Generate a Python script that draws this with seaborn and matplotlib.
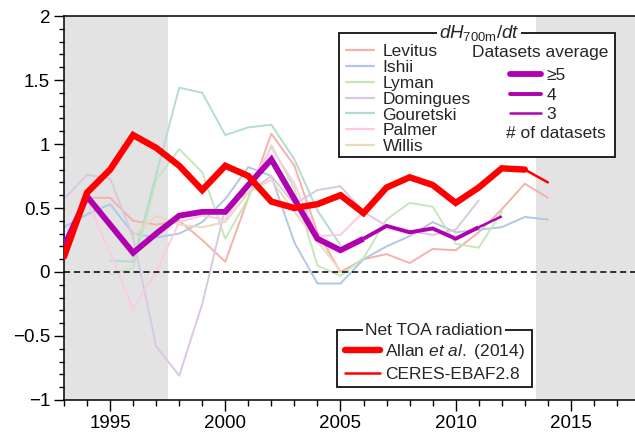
import numpy as np
import pandas as pd
import matplotlib
matplotlib.use('Agg')
import matplotlib.pyplot as plt
import seaborn as sns
from matplotlib.lines import Line2D
from matplotlib.patches import Rectangle
from matplotlib.ticker import MultipleLocator

# ---------------- data ----------------
dataset_names = ["Levitus", "Ishii", "Lyman", "Domingues", "Gouretski", "Palmer", "Willis"]

levitus_years = list(range(1994, 2015))
levitus = [0.58, 0.58, 0.40, 0.37, 0.40, 0.25, 0.08, 0.58, 1.08, 0.83, 0.31,
           0.00, 0.10, 0.14, 0.07, 0.18, 0.17, 0.31, 0.49, 0.69, 0.58]

ishii_years = list(range(1993, 2015))
ishii = [0.35, 0.45, 0.53, 0.30, 0.27, 0.30, 0.39, 0.57, 0.82, 0.75, 0.23,
         -0.09, -0.09, 0.10, 0.20, 0.28, 0.39, 0.31, 0.33, 0.35, 0.43, 0.41]

lyman_years = list(range(1995, 2013))
lyman = [-0.02, 0.03, 0.72, 0.96, 0.78, 0.26, 0.58, 0.99, 0.65, 0.05, -0.03,
         0.11, 0.41, 0.54, 0.51, 0.22, 0.19, 0.47]

domingues_years = list(range(1993, 2012))
domingues = [0.57, 0.76, 0.73, 0.27, -0.58, -0.81, -0.25, 0.50, 0.62, 0.75,
             0.53, 0.64, 0.67, 0.47, 0.36, 0.32, 0.29, 0.33, 0.56]

gouretski_years = list(range(1995, 2006))
gouretski = [0.09, 0.08, 0.76, 1.44, 1.40, 1.07, 1.13, 1.15, 0.88, 0.48, 0.21]

palmer_years = list(range(1993, 2007))
palmer = [0.09, 0.56, 0.15, -0.29, 0.00, 0.39, 0.44, 0.41, 0.67, 0.97, 0.69,
          0.28, 0.29, 0.47]

willis_years = list(range(1996, 2006))
willis = [0.28, 0.44, 0.37, 0.35, 0.39, 0.62, 0.72, 0.47, 0.24, 0.01]

avg_years = list(range(1993, 2013))
avg_values = [0.20, 0.59, 0.37, 0.15, 0.30, 0.44, 0.47, 0.47, 0.68, 0.88,
              0.57, 0.26, 0.17, 0.26, 0.36, 0.31, 0.34, 0.26, 0.35, 0.435]
n_datasets = [5, 5, 7, 7, 7, 7, 7, 7, 7, 7, 7, 7, 7, 5, 4, 4, 4, 4, 4, 3]

allan_years = list(range(1993, 2014))
allan = [0.12, 0.62, 0.80, 1.07, 0.97, 0.83, 0.64, 0.83, 0.75, 0.55, 0.50,
         0.53, 0.60, 0.46, 0.66, 0.74, 0.68, 0.54, 0.66, 0.81, 0.80]

ceres_years = list(range(2001, 2015))
ceres = [0.75, 0.55, 0.50, 0.53, 0.60, 0.46, 0.66, 0.74, 0.68, 0.54, 0.66,
         0.81, 0.80, 0.70]

dataset_colors = ["#f6b1aa", "#b0c8e4", "#c6e7bc", "#dac8e3", "#b4ddcf", "#fbcbe6", "#ebdabd"]

# ---------------- styling ----------------
sns.set_style("ticks")
plt.rcParams['font.family'] = ['Liberation Sans', 'DejaVu Sans']
plt.rcParams['mathtext.fontset'] = 'custom'
plt.rcParams['mathtext.rm'] = 'Liberation Sans'
plt.rcParams['mathtext.it'] = 'Liberation Sans:italic'

W, H = 635, 440
fig = plt.figure(figsize=(W / 100, H / 100), dpi=100)
fig.patch.set_facecolor('white')

def fx(px):
    return px / W

def fy(py):
    return 1 - py / H

ax = fig.add_axes([fx(64), fy(400), (640 - 64) / W, (400 - 16) / H])
ax.set_facecolor('white')

# shaded periods
ax.axvspan(1993, 1997.5, color='#e3e3e3', lw=0, zorder=0)
ax.axvspan(2013.5, 2018, color='#e3e3e3', lw=0, zorder=0)

# individual datasets
all_years = [levitus_years, ishii_years, lyman_years, domingues_years,
             gouretski_years, palmer_years, willis_years]
all_vals = [levitus, ishii, lyman, domingues, gouretski, palmer, willis]
rows = []
for name, yrs, vals in zip(dataset_names, all_years, all_vals):
    for yr, v in zip(yrs, vals):
        rows.append((name, yr, v))
df = pd.DataFrame(rows, columns=["dataset", "year", "value"])
sns.lineplot(data=df, x="year", y="value", hue="dataset",
             palette=dict(zip(dataset_names, dataset_colors)),
             hue_order=dataset_names, estimator=None, sort=False,
             legend=False, lw=1.4, ax=ax, zorder=2)

# zero line
ax.axhline(0, color='k', lw=1.1, ls=(0, (4, 2.5)), zorder=3)

# dataset average, width by number of datasets
purple = '#b000b0'
width_for = {5: 4.2, 4: 2.8, 3: 1.8}
seg_cat = [min(5, min(n_datasets[i], n_datasets[i + 1])) for i in range(len(avg_years) - 1)]
start = 0
for i in range(1, len(seg_cat) + 1):
    if i == len(seg_cat) or seg_cat[i] != seg_cat[start]:
        sl = slice(start, i + 1)
        sns.lineplot(x=avg_years[sl], y=avg_values[sl], color=purple,
                     lw=width_for[seg_cat[start]], ax=ax, zorder=4,
                     solid_capstyle='butt', solid_joinstyle='miter')
        start = i

# net TOA radiation
sns.lineplot(x=ceres_years, y=ceres, color='#ff0000', lw=1.8, ax=ax, zorder=5)
sns.lineplot(x=allan_years, y=allan, color='#ff0000', lw=4.6, ax=ax, zorder=6,
             solid_joinstyle='miter')

# axes
ax.set_xlim(1993, 2018)
ax.set_ylim(-1, 2)
ax.set_xlabel('')
ax.set_ylabel('')
ax.xaxis.set_major_locator(MultipleLocator(5))
ax.xaxis.set_minor_locator(MultipleLocator(1))
ax.yaxis.set_major_locator(MultipleLocator(0.5))
ax.yaxis.set_minor_locator(MultipleLocator(0.1))
ax.set_yticks([-1, -0.5, 0, 0.5, 1, 1.5, 2])
ax.set_yticklabels(['\u22121', '\u22120.5', '0', '0.5', '1', '1.5', '2'])
ax.set_xticks([1995, 2000, 2005, 2010, 2015])
ax.set_xticklabels(['1995', '2000', '2005', '2010', '2015'])
ax.tick_params(axis='both', which='both', direction='out', width=1.0, colors='k',
               labelsize=13.5)
ax.tick_params(axis='x', which='major', length=8, pad=3)
ax.tick_params(axis='x', which='minor', length=4)
ax.tick_params(axis='y', which='major', length=7, pad=3)
ax.tick_params(axis='y', which='minor', length=3.8)
for s in ax.spines.values():
    s.set_linewidth(1.1)
    s.set_color('k')

# ---------------- legends ----------------
# box 1
fig.add_artist(Rectangle((fx(339), fy(157)), (615 - 339) / W, (157 - 33) / H,
                         transform=fig.transFigure, facecolor='white',
                         edgecolor='#111111', lw=1.3, zorder=10))
fig.text(fx(479), fy(33), r'$dH_{\mathrm{700m}}/dt$', ha='center', va='center',
         fontsize=13.5, zorder=12,
         bbox=dict(facecolor='white', edgecolor='none', pad=1.5))
h1 = [Line2D([], [], color=c, lw=1.6) for c in dataset_colors]
leg1 = fig.legend(h1, dataset_names, loc='upper left',
                  bbox_to_anchor=(fx(346), fy(44)), bbox_transform=fig.transFigure,
                  frameon=False, borderpad=0, borderaxespad=0, handlelength=1.6,
                  handletextpad=0.5, labelspacing=0.04, fontsize=12.5)
leg1.set_zorder(11)

fig.text(fx(540), fy(53), 'Datasets average', ha='center', va='center',
         fontsize=12.5, zorder=12)
h2 = [Line2D([], [], color=purple, lw=w) for w in (4.2, 2.8, 1.8)]
leg2 = fig.legend(h2, ['\u22655', '4', '3'], loc='upper left',
                  bbox_to_anchor=(fx(510), fy(68)), bbox_transform=fig.transFigure,
                  frameon=False, borderpad=0, borderaxespad=0, handlelength=1.8,
                  handletextpad=0.3, labelspacing=0.26, fontsize=12.5)
leg2.set_zorder(11)
fig.text(fx(556), fy(134), '# of datasets', ha='center', va='center',
         fontsize=12.5, zorder=12)

# box 2
fig.add_artist(Rectangle((fx(337), fy(387)), (532 - 337) / W, (387 - 330) / H,
                         transform=fig.transFigure, facecolor='white',
                         edgecolor='#111111', lw=1.3, zorder=10))
fig.text(fx(434), fy(330), 'Net TOA radiation', ha='center', va='center',
         fontsize=12.5, zorder=12,
         bbox=dict(facecolor='white', edgecolor='none', pad=1.5))
h3 = [Line2D([], [], color='#ff0000', lw=4.6), Line2D([], [], color='#ff0000', lw=1.8)]
leg3 = fig.legend(h3, [r'Allan $\mathit{et\ al.}$ (2014)', 'CERES-EBAF2.8'],
                  loc='upper left', bbox_to_anchor=(fx(345), fy(342)),
                  bbox_transform=fig.transFigure, frameon=False, borderpad=0,
                  borderaxespad=0, handlelength=2.0, handletextpad=0.3,
                  labelspacing=0.36, fontsize=12.5)
leg3.set_zorder(11)

fig.savefig('out.png', dpi=100, facecolor='white')
